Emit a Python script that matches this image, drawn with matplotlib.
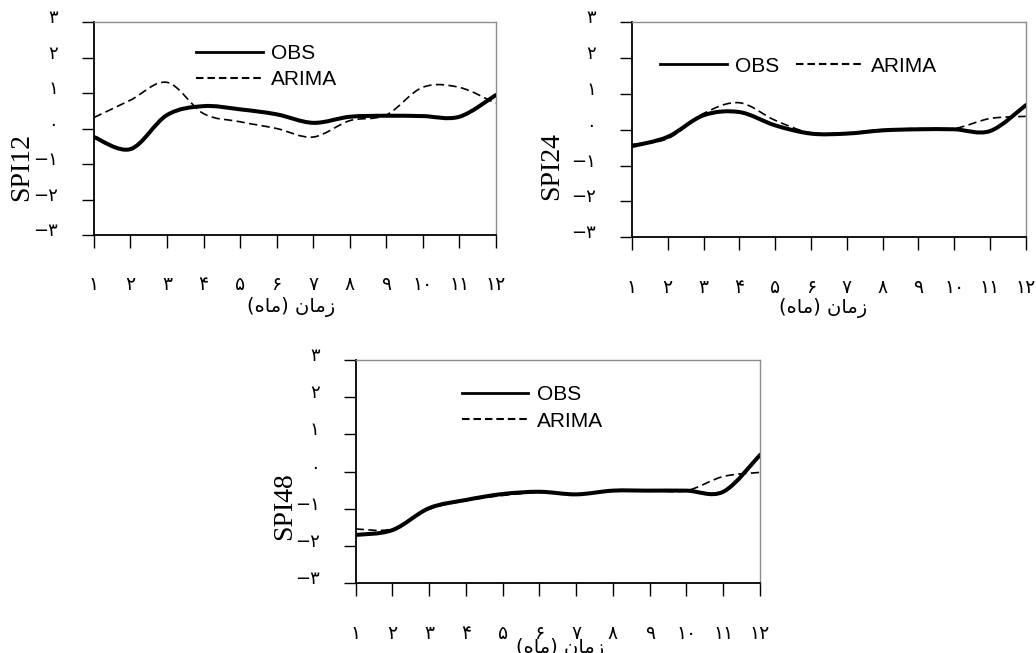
import numpy as np
import matplotlib
matplotlib.use("Agg")
import matplotlib.pyplot as plt
from matplotlib.path import Path
from matplotlib.patches import PathPatch
from matplotlib.lines import Line2D
from matplotlib.transforms import ScaledTranslation

# months 1..12
MONTHS = list(range(1, 13))

SPI12_OBS = [-0.24, -0.58, 0.38, 0.63, 0.54, 0.40, 0.16, 0.33, 0.36, 0.35, 0.33, 0.94]
SPI12_ARIMA = [0.31, 0.80, 1.30, 0.42, 0.19, 0.00, -0.24, 0.22, 0.38, 1.16, 1.16, 0.71]

SPI24_OBS = [-0.46, -0.20, 0.40, 0.49, 0.12, -0.11, -0.11, -0.02, 0.01, 0.01, -0.04, 0.68]
SPI24_ARIMA = [-0.41, -0.25, 0.45, 0.75, 0.26, -0.09, -0.09, 0.00, 0.03, 0.03, 0.31, 0.37]

SPI48_OBS = [-1.70, -1.57, -0.98, -0.76, -0.60, -0.54, -0.61, -0.51, -0.51, -0.51, -0.54, 0.45]
SPI48_ARIMA = [-1.54, -1.54, -1.01, -0.78, -0.64, -0.56, -0.61, -0.51, -0.51, -0.51, -0.13, -0.02]

X_TICK_LABELS = ["۱", "۲", "۳", "۴", "۵", "۶", "۷", "۸", "۹", "۱۰", "۱۱", "۱۲"]
Y_TICKS = [-3, -2, -1, 0, 1, 2, 3]
Y_TICK_LABELS = ["−۳", "−۲", "−۱", "۰", "۱", "۲", "۳"]

# "زمان (ماه)" pre-shaped into visual order (matplotlib has no RTL shaping)
X_LABEL = "(\uFEE9\uFE8E\uFEE3) \uFEE5\uFE8E\uFEE3\uFEAF"

PERSIAN_FONT = ["DejaVu Sans"]


def smooth_path(x, y):
    """Excel-style smoothed line: cubic Bezier through every point."""
    pts = np.column_stack([x, y]).astype(float)
    ext = np.vstack([pts[0], pts, pts[-1]])
    verts = [pts[0]]
    codes = [Path.MOVETO]
    for i in range(len(pts) - 1):
        p0, p1, p2, p3 = ext[i], ext[i + 1], ext[i + 2], ext[i + 3]
        verts += [p1 + (p2 - p0) / 6, p2 - (p3 - p1) / 6, p2]
        codes += [Path.CURVE4] * 3
    return Path(verts, codes)


def draw_panel(ax, obs, arima, ylabel, ylab_xy, legend_xy, ncol, xlab_xy):
    ax.add_patch(PathPatch(smooth_path(MONTHS, arima), fill=False, color="black",
                           lw=1.2, linestyle=(0, (5, 2.6)), zorder=2))
    ax.add_patch(PathPatch(smooth_path(MONTHS, obs), fill=False, color="black",
                           lw=2.9, capstyle="round", joinstyle="round", zorder=3))
    ax.set_xlim(1, 12)
    ax.set_ylim(-3, 3)

    ax.set_xticks(MONTHS)
    ax.set_xticklabels(X_TICK_LABELS, family=PERSIAN_FONT, fontsize=13.5)
    ax.set_yticks(Y_TICKS)
    ax.set_yticklabels(Y_TICK_LABELS, family=PERSIAN_FONT, fontsize=13)
    ax.tick_params(axis="x", direction="out", length=9, width=1, pad=20)
    ax.tick_params(axis="y", direction="out", length=9, width=1, pad=17)
    shift = ScaledTranslation(0, 0.06, ax.figure.dpi_scale_trans)
    for lab in ax.get_yticklabels():
        lab.set_transform(lab.get_transform() + shift)

    for side in ("left", "bottom"):
        ax.spines[side].set_color("black")
        ax.spines[side].set_linewidth(1.3)
    for side in ("top", "right"):
        ax.spines[side].set_color("#8c8c8c")
        ax.spines[side].set_linewidth(1.0)

    ax.set_ylabel(ylabel, family="Liberation Serif", fontsize=20, va="center")
    ax.yaxis.set_label_coords(*ylab_xy)
    ax.set_xlabel(X_LABEL, family=PERSIAN_FONT, fontsize=14, va="center")
    ax.xaxis.set_label_coords(*xlab_xy)

    handles = [
        Line2D([], [], color="black", lw=2.0),
        Line2D([], [], color="black", lw=1.5, linestyle=(0, (3.6, 1.9))),
    ]
    ax.legend(handles, ["OBS", "ARIMA"], loc="center left", bbox_to_anchor=legend_xy,
              ncol=ncol, frameon=False, borderpad=0, borderaxespad=0,
              handlelength=3.2, handletextpad=0.4, labelspacing=0.35,
              columnspacing=0.8, prop={"family": "Liberation Sans", "size": 15})


fig = plt.figure(figsize=(10.36, 6.53), dpi=100)
ax1 = fig.add_axes([0.0907, 0.6401, 0.3878, 0.3262])
ax2 = fig.add_axes([0.6100, 0.6366, 0.3801, 0.3297])
ax3 = fig.add_axes([0.3433, 0.1067, 0.3903, 0.3420])

draw_panel(ax1, SPI12_OBS, SPI12_ARIMA, "SPI12", (-0.179, 0.32), (0.255, 0.79), 1, (0.49, -0.338))
draw_panel(ax2, SPI24_OBS, SPI24_ARIMA, "SPI24", (-0.203, 0.33), (0.072, 0.795), 2, (0.485, -0.33))
draw_panel(ax3, SPI48_OBS, SPI48_ARIMA, "SPI48", (-0.176, 0.345), (0.262, 0.785), 1, (0.505, -0.29))

fig.savefig("out.png", dpi=100)
